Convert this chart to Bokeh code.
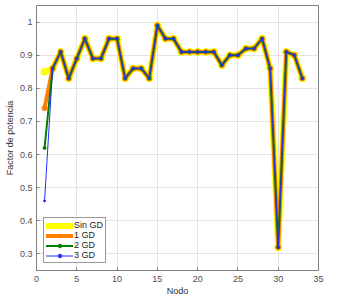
from bokeh.plotting import figure
from bokeh.models import Range1d, Legend, LegendItem, FixedTicker
from bokeh.embed import file_html
from bokeh.resources import INLINE

nodes = list(range(1, 34))
sin_gd = [0.85, 0.86, 0.91, 0.83, 0.89, 0.95, 0.89, 0.89, 0.95, 0.95, 0.83, 0.86, 0.86, 0.83, 0.99,
          0.95, 0.95, 0.91, 0.91, 0.91, 0.91, 0.91, 0.87, 0.90, 0.90, 0.92, 0.92, 0.95, 0.86, 0.32,
          0.91, 0.90, 0.83]
gd1 = [0.74] + sin_gd[1:]
gd2 = [0.62] + sin_gd[1:]
gd3 = [0.46] + sin_gd[1:]
labels = ["Sin GD", "1 GD", "2 GD", "3 GD"]
x_ticks = [0, 5, 10, 15, 20, 25, 30, 35]
y_ticks = [0.3, 0.4, 0.5, 0.6, 0.7, 0.8, 0.9, 1.0]

FONT = "Liberation Sans"
p = figure(width=338, height=298, output_backend="svg", toolbar_location=None,
           x_range=Range1d(0, 35), y_range=Range1d(0.25, 1.05),
           min_border_left=36, min_border_right=20, min_border_top=5, min_border_bottom=25)
p.outline_line_color = "#808080"
p.outline_line_width = 1
p.grid.grid_line_color = "#e3e3e3"
p.xgrid.ticker = FixedTicker(ticks=x_ticks)
p.ygrid.ticker = FixedTicker(ticks=y_ticks)

for ax, tk in ((p.xaxis[0], x_ticks), (p.yaxis[0], y_ticks)):
    ax.ticker = FixedTicker(ticks=tk)
    ax.major_tick_in = 3
    ax.major_tick_out = 0
    ax.minor_tick_line_color = None
    ax.axis_line_color = "#808080"
    ax.major_tick_line_color = "#808080"
    ax.major_label_text_font = FONT
    ax.major_label_text_font_size = "9px"
    ax.major_label_text_color = "#4d4d4d"
    ax.axis_label_text_font = FONT
    ax.axis_label_text_font_size = "9px"
    ax.axis_label_text_font_style = "normal"
    ax.axis_label_text_color = "#333333"
    ax.axis_label_standoff = 2
    ax.major_label_standoff = 4
p.xaxis.axis_label = "Nodo"
p.yaxis.axis_label = "Factor de potencia"
p.yaxis.major_label_overrides = {1.0: "1"}
p.xaxis.major_label_standoff = 5
p.xaxis.axis_label_standoff = 1

styles = [
    (sin_gd, "#ffff00", 6, 7),
    (gd1, "#ff7f00", 4, 5),
    (gd2, "#008000", 2, 3),
    (gd3, "#2a2aff", 1, 2),
]
items = []
for (ys, col, lw, ms), lab in zip(styles, labels):
    r1 = p.line(nodes, ys, line_color=col, line_width=lw, line_join="round", line_cap="round")
    r2 = p.scatter(nodes, ys, marker="circle", size=ms, fill_color=col, line_color=col)
    items.append(LegendItem(label=lab, renderers=[r1, r2]))

leg = Legend(items=items, location=(7, 7))
leg.label_text_font = FONT
leg.label_text_font_size = "9px"
leg.label_text_color = "#222222"
leg.glyph_width = 27
leg.glyph_height = 9
leg.label_height = 9
leg.spacing = 0
leg.padding = 2
leg.margin = 0
leg.label_standoff = 1
leg.border_line_color = "#333333"
leg.border_line_width = 1
leg.background_fill_alpha = 1
p.add_layout(leg, "center")

open("out.html", "w").write(file_html(p, INLINE))
